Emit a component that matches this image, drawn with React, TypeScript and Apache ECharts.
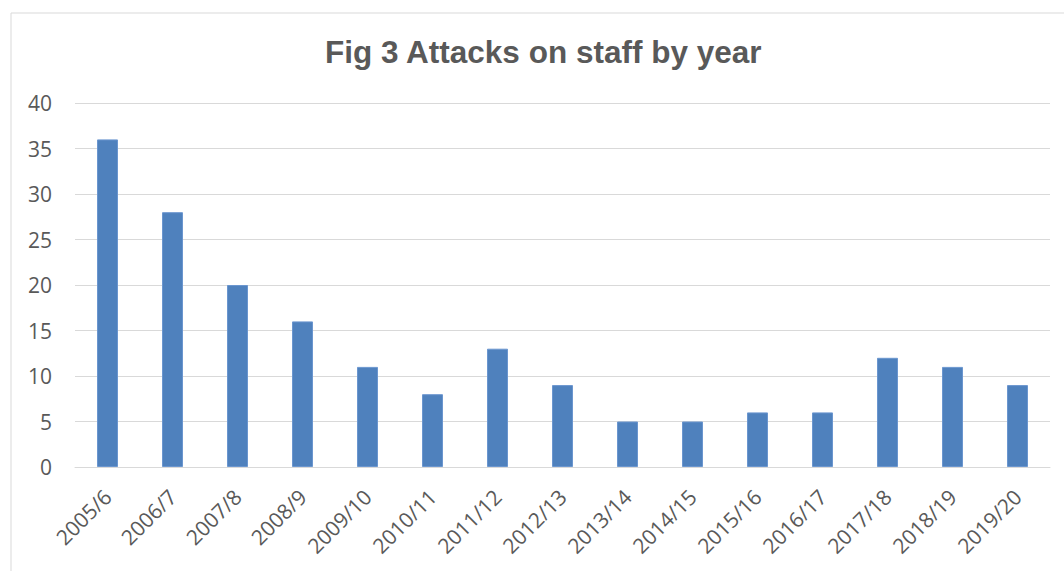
import React, { useEffect, useRef } from "react";
import * as echarts from "echarts";

const categories = ["2005/6", "2006/7", "2007/8", "2008/9", "2009/10", "2010/11", "2011/12", "2012/13", "2013/14", "2014/15", "2015/16", "2016/17", "2017/18", "2018/19", "2019/20"];
const attacks = [36, 28, 20, 16, 11, 8, 13, 9, 5, 5, 6, 6, 12, 11, 9];
const titleText = "Fig 3 Attacks on staff by year";

export default function App() {
  const ref = useRef<HTMLDivElement>(null);
  useEffect(() => {
    if (!ref.current) return;
    const chart = echarts.init(ref.current, null, { renderer: "svg" });
    chart.setOption({
      animation: false,
      backgroundColor: "#ffffff",
      title: {
        text: titleText,
        left: 325,
        top: 36,
        padding: 0,
        textStyle: { fontFamily: "Liberation Sans", fontWeight: "bold", fontSize: 31.5, color: "#595959" },
      },
      graphic: [
        {
          type: "rect",
          shape: { x: 11, y: 13, width: 1100, height: 600 },
          style: { fill: "none", stroke: "#d9d9d9", lineWidth: 1 },
          silent: true,
        },
      ],
      grid: { left: 75, right: 14, top: 103, bottom: 104 },
      xAxis: {
        type: "category",
        data: categories,
        axisLine: { lineStyle: { color: "#d9d9d9", width: 1 } },
        axisTick: { show: false },
        axisLabel: { rotate: 45, color: "#595959", fontSize: 21, fontFamily: "Open Sans", margin: 26, interval: 0 },
      },
      yAxis: {
        type: "value",
        min: 0,
        max: 40,
        interval: 5,
        axisLine: { show: false },
        axisTick: { show: false },
        splitLine: { lineStyle: { color: "#d9d9d9", width: 1 } },
        axisLabel: { color: "#595959", fontSize: 21, fontFamily: "Open Sans", margin: 23 },
      },
      series: [
        {
          type: "bar",
          data: attacks,
          barWidth: 21,
          itemStyle: { color: "#4f81bd", borderColor: "#6b96cf", borderWidth: 1 },
        },
      ],
    });
    return () => chart.dispose();
  }, []);
  return <div ref={ref} style={{ position: "fixed", left: 0, top: 0, width: 1064, height: 571 }} />;
}
